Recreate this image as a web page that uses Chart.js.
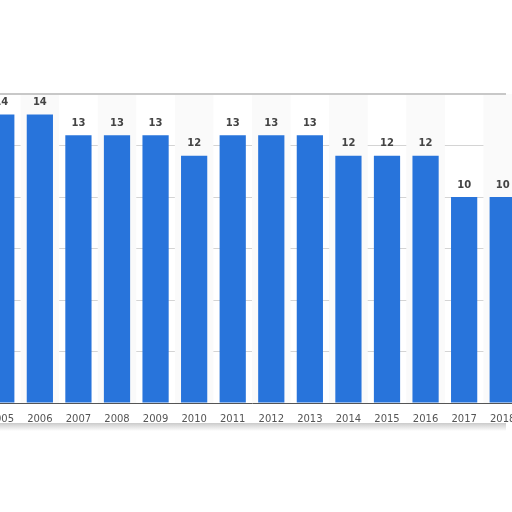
<!DOCTYPE html>
<html>
<head>
<meta charset="utf-8">
<script src="https://cdn.jsdelivr.net/npm/chart.js@4/dist/chart.umd.min.js"></script>
<style>
  html, body { margin: 0; padding: 0; background: #fff; overflow: hidden; }
  #wrap { position: absolute; left: -18px; top: 0; width: 540px; height: 512px; }
</style>
</head>
<body>
<div id="wrap"><canvas id="bars" width="540" height="512"></canvas></div>
<script>
const years = ["2005", "2006", "2007", "2008", "2009", "2010", "2011",
               "2012", "2013", "2014", "2015", "2016", "2017", "2018"];
const values = [14, 14, 13, 13, 13, 12, 13, 13, 13, 12, 12, 12, 10, 10];

// value labels above bars + faint column bands + card frame
const decor = {
  id: 'decor',
  beforeDatasetsDraw(chart) {
    const {ctx, chartArea, scales: {x}} = chart;
    const step = x.getPixelForValue(1) - x.getPixelForValue(0);
    ctx.save();
    ctx.fillStyle = '#fafafa';
    years.forEach((y, i) => {
      if (i % 2 === 0) return;
      const cx = x.getPixelForValue(i);
      ctx.fillRect(cx - step / 2, chartArea.top, step, chartArea.bottom - chartArea.top);
    });
    ctx.restore();
  },
  afterDatasetsDraw(chart) {
    const {ctx, chartArea} = chart;
    const meta = chart.getDatasetMeta(0);
    ctx.save();
    ctx.font = 'bold 10px "DejaVu Sans", sans-serif';
    ctx.fillStyle = '#444';
    ctx.textAlign = 'center';
    ctx.textBaseline = 'bottom';
    meta.data.forEach((bar, i) => {
      ctx.fillText(values[i], bar.x, bar.y - 7);
    });
    // frame top edge and bottom shadow
    ctx.strokeStyle = '#c8c8c8';
    ctx.lineWidth = 2;
    ctx.beginPath();
    ctx.moveTo(18, chartArea.top);
    ctx.lineTo(524, chartArea.top);
    ctx.stroke();
    const g = ctx.createLinearGradient(0, 423, 0, 431);
    g.addColorStop(0, 'rgba(150,150,150,0.5)');
    g.addColorStop(1, 'rgba(150,150,150,0)');
    ctx.fillStyle = g;
    ctx.fillRect(18, 423, 506, 8);
    ctx.restore();
  }
};

new Chart(document.getElementById('bars'), {
  type: 'bar',
  data: {
    labels: years,
    datasets: [{
      data: values,
      backgroundColor: '#2874db',
      categoryPercentage: 0.68,
      barPercentage: 1.0
    }]
  },
  options: {
    responsive: false,
    animation: false,
    layout: { padding: { top: 94, left: 0, right: 0, bottom: 0 } },
    plugins: { legend: { display: false }, tooltip: { enabled: false } },
    scales: {
      x: {
        grid: { display: false },
        border: { display: true, color: '#555', width: 1 },
        ticks: {
          color: '#555',
          padding: 2,
          maxRotation: 0,
          autoSkip: false,
          font: { size: 10, family: '"DejaVu Sans", sans-serif' }
        },
        afterFit: s => { s.height = 109; }
      },
      y: {
        min: 0,
        max: 15,
        ticks: { display: false, stepSize: 2.5 },
        border: { display: false },
        grid: {
          drawTicks: false,
          color: c => (c.tick.value === 0 || c.tick.value === 15) ? 'rgba(0,0,0,0)' : '#d4d4d4',
          borderDash: [2, 2],
          lineWidth: 1
        },
        afterFit: s => { s.width = 0; }
      }
    }
  },
  plugins: [decor]
});
</script>
</body>
</html>
